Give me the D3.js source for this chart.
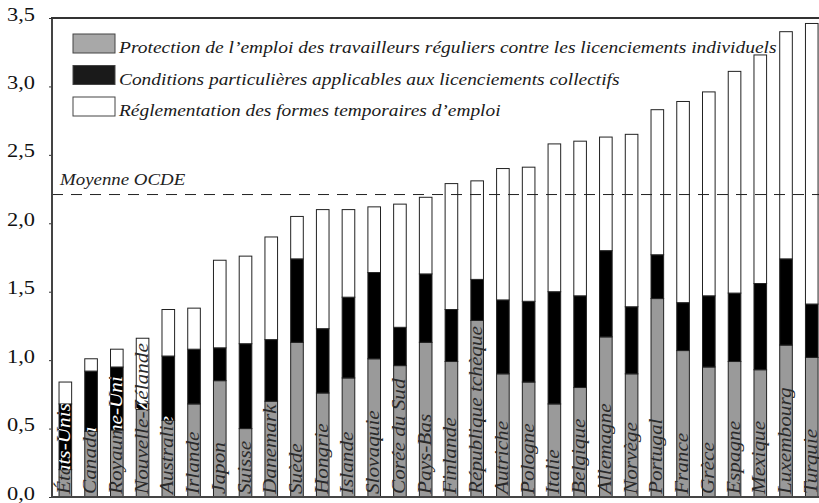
<!DOCTYPE html>
<html>
<head>
<meta charset="utf-8">
<script src="https://cdn.jsdelivr.net/npm/d3@7"></script>
<style>
  body { margin: 0; background: #fff; }
  svg { display: block; }
  text { font-family: "Liberation Serif", "DejaVu Serif", serif; }
</style>
</head>
<body>
<svg id="chart"></svg>
<script>
// Data
const countries = ["États-Unis", "Canada", "Royaume-Uni", "Nouvelle-Zélande", "Australie", "Irlande", "Japon", "Suisse", "Danemark", "Suède", "Hongrie", "Islande", "Slovaquie", "Corée du Sud", "Pays-Bas", "Finlande", "République tchèque", "Autriche", "Pologne", "Italie", "Belgique", "Allemagne", "Norvège", "Portugal", "France", "Grèce", "Espagne", "Mexique", "Luxembourg", "Turquie"];
const regular    = [0.20, 0.48, 0.49, 0.64, 0.56, 0.68, 0.85, 0.50, 0.70, 1.13, 0.76, 0.87, 1.01, 0.96, 1.13, 0.99, 1.29, 0.90, 0.84, 0.68, 0.80, 1.17, 0.90, 1.45, 1.07, 0.95, 0.99, 0.93, 1.11, 1.02];
const collective = [0.48, 0.44, 0.46, 0.04, 0.47, 0.40, 0.24, 0.62, 0.45, 0.61, 0.47, 0.59, 0.63, 0.28, 0.50, 0.38, 0.30, 0.54, 0.59, 0.82, 0.67, 0.63, 0.49, 0.32, 0.35, 0.52, 0.50, 0.63, 0.63, 0.39];
const temporary  = [0.16, 0.09, 0.13, 0.48, 0.34, 0.30, 0.64, 0.64, 0.75, 0.31, 0.87, 0.64, 0.48, 0.90, 0.56, 0.92, 0.72, 0.96, 0.98, 1.08, 1.13, 0.83, 1.26, 1.06, 1.47, 1.49, 1.62, 1.67, 1.66, 2.05];
const seriesNames = [
  "Protection de l’emploi des travailleurs réguliers contre les licenciements individuels",
  "Conditions particulières applicables aux licenciements collectifs",
  "Réglementation des formes temporaires d’emploi"
];
const yTicks = [0, 0.5, 1, 1.5, 2, 2.5, 3, 3.5];
const oecdMean = 2.21;

const width = 819, height = 503;
const stretch = 1.18; // the source typesetting is horizontally stretched

const svg = d3.select("#chart")
  .attr("width", width)
  .attr("height", height);

const x = d3.scaleBand()
  .domain(countries)
  .range([52.6, 824.5])
  .paddingInner(0.51)
  .paddingOuter(0.25);

const y = d3.scaleLinear()
  .domain([0, 3.5])
  .range([497, 18]);

const keys = ["regular", "collective", "temporary"];
const fills = { regular: "#9a9a9a", collective: "#000", temporary: "#fff" };
const rows = countries.map((c, i) => ({
  country: c, regular: regular[i], collective: collective[i], temporary: temporary[i]
}));
const stacked = d3.stack().keys(keys)(rows);

// bars
svg.append("g")
  .selectAll("g")
  .data(stacked)
  .join("g")
    .attr("fill", d => fills[d.key])
  .selectAll("rect")
  .data(d => d)
  .join("rect")
    .attr("x", d => x(d.data.country))
    .attr("y", d => y(d[1]))
    .attr("width", x.bandwidth())
    .attr("height", d => y(d[0]) - y(d[1]))
    .attr("stroke", "#222")
    .attr("stroke-width", 1);

// clip made of the black segments, so labels turn white over them
svg.append("defs").append("clipPath")
    .attr("id", "black-clip")
  .selectAll("rect")
  .data(stacked[1])
  .join("rect")
    .attr("x", d => x(d.data.country))
    .attr("y", d => y(d[1]))
    .attr("width", x.bandwidth())
    .attr("height", d => y(d[0]) - y(d[1]));

// OECD mean
svg.append("line")
  .attr("x1", 52).attr("x2", width)
  .attr("y1", y(oecdMean)).attr("y2", y(oecdMean))
  .attr("stroke", "#222")
  .attr("stroke-width", 1)
  .attr("stroke-dasharray", "11,8");

svg.append("text")
  .attr("transform", `translate(60,${y(oecdMean) - 10}) scale(${stretch},1)`)
  .style("font-size", "16px")
  .style("font-style", "italic")
  .attr("fill", "#222")
  .text("Moyenne OCDE");

// country labels: dark everywhere, white copy clipped to the black parts
const labelTransform = d => `translate(${x(d) + x.bandwidth() / 2 + 5},494) rotate(-90) scale(${stretch},1)`;
[["#2a2a2a", null], ["#fff", "url(#black-clip)"]].forEach(([col, clip]) => {
  svg.append("g")
      .attr("clip-path", clip)
    .selectAll("text")
    .data(countries)
    .join("text")
      .attr("transform", labelTransform)
      .style("font-size", "18px")
      .style("font-style", "italic")
      .attr("fill", col)
      .text(d => d);
});

// axes frame
const yAxis = d3.axisLeft(y)
  .tickValues(yTicks)
  .tickSize(3)
  .tickFormat(d => d3.format(".1f")(d).replace(".", ","));

const ga = svg.append("g")
  .attr("transform", "translate(52,0)")
  .call(yAxis);
ga.select(".domain").remove();
ga.selectAll(".tick line").attr("stroke", "#333");
ga.selectAll(".tick text")
  .attr("x", null)
  .attr("dy", null)
  .attr("text-anchor", "end")
  .attr("transform", `translate(-17,2) scale(${stretch},1)`)
  .style("font-size", "19px")
  .attr("fill", "#111");

svg.append("line")
  .attr("x1", 52).attr("x2", 52)
  .attr("y1", y(3.5)).attr("y2", y(0))
  .attr("stroke", "#444").attr("stroke-width", 2);
svg.append("line")
  .attr("x1", 51).attr("x2", width)
  .attr("y1", y(3.5)).attr("y2", y(3.5))
  .attr("stroke", "#333").attr("stroke-width", 2);
svg.append("line")
  .attr("x1", 51).attr("x2", width)
  .attr("y1", y(0)).attr("y2", y(0))
  .attr("stroke", "#444").attr("stroke-width", 2);

// legend
const legendWidths = [658, 501, 382]; // rendered text widths in the source
const legend = svg.append("g")
  .selectAll("g")
  .data(keys)
  .join("g")
    .attr("transform", (d, i) => `translate(73,${34 + i * 31.5})`);

legend.append("rect")
  .attr("width", 42)
  .attr("height", 19)
  .attr("fill", d => d === "regular" ? "#a8a8a8" : d === "collective" ? "#1a1a1a" : "#fff")
  .attr("stroke", "#444")
  .attr("stroke-width", 1);

legend.append("text")
  .style("font-size", "16px")
  .style("font-style", "italic")
  .attr("fill", "#1a1a1a")
  .text((d, i) => seriesNames[i])
  .attr("transform", function(d, i) {
    const len = this.getComputedTextLength() || 1;
    return `translate(46,19) scale(${legendWidths[i] / len},1)`;
  });
</script>
</body>
</html>
